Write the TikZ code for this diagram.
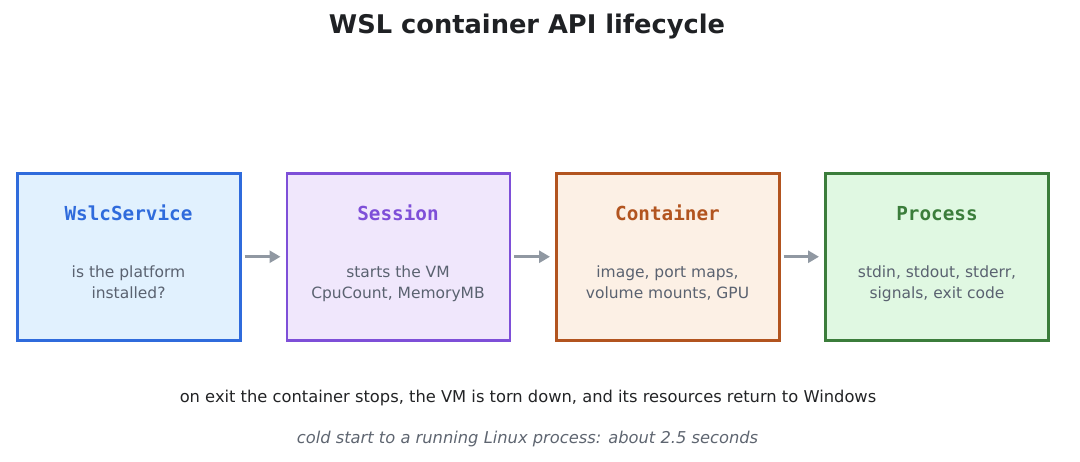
\documentclass[tikz,border=0pt]{standalone}
\usepackage{fontspec}
\setmainfont{DejaVu Sans}
\setmonofont{DejaVu Sans Mono}
\usetikzlibrary{arrows.meta}
\definecolor{titlec}{HTML}{1F2124}
\definecolor{bodyc}{HTML}{5A6270}
\definecolor{arrowc}{HTML}{9098A2}
\definecolor{footc}{HTML}{222325}
\definecolor{notec}{HTML}{5E6570}
\definecolor{bA}{HTML}{2F6BDC}\definecolor{fA}{HTML}{E1F1FE}
\definecolor{bB}{HTML}{7E4FD8}\definecolor{fB}{HTML}{F0E7FC}
\definecolor{bC}{HTML}{B2541F}\definecolor{fC}{HTML}{FCF0E5}
\definecolor{bD}{HTML}{3B7D3B}\definecolor{fD}{HTML}{E0F8E2}
\tikzset{
  stage/.style={draw, line width=2.5pt, minimum width=223pt, minimum height=167pt, inner sep=0pt, anchor=north west},
  stagetitle/.style={anchor=base, font=\fontsize{19.3}{22}\selectfont\ttfamily\bfseries},
  body/.style={anchor=base, text=bodyc, font=\fontsize{15.5}{21}\selectfont},
  flow/.style={draw=arrowc, line width=3pt, -{Triangle[length=11pt,width=12pt]}, shorten >=1pt},
}
\begin{document}
\begin{tikzpicture}[x=1pt,y=-1pt]
\useasboundingbox (0,0) rectangle (1080,461);
\node[anchor=base, text=titlec, font=\fontsize{25.7}{30}\selectfont\bfseries] (title) at (527,33) {WSL container API lifecycle};

\node[stage, draw=bA, fill=fA] (svc) at (16,172) {};
\node[stage, draw=bB, fill=fB] (ses) at (285.5,172) {};
\node[stage, draw=bC, fill=fC] (con) at (555,172) {};
\node[stage, draw=bD, fill=fD] (pro) at (824,172) {};

\node[stagetitle, text=bA] (svct) at (128.5,220.5) {WslcService};
\node[stagetitle, text=bB] (sest) at (398,220.5) {Session};
\node[stagetitle, text=bC] (cont) at (667.5,220.5) {Container};
\node[stagetitle, text=bD] (prot) at (937,220.5) {Process};

\node[body] (svc1) at (128.5,277) {is the platform};
\node[body] (svc2) at (128.5,298) {installed?};
\node[body] (ses1) at (398,277) {starts the VM};
\node[body] (ses2) at (398,298) {CpuCount, MemoryMB};
\node[body] (con1) at (667.5,277) {image, port maps,};
\node[body] (con2) at (667.5,298) {volume mounts, GPU};
\node[body] (pro1) at (937,277) {stdin, stdout, stderr,};
\node[body] (pro2) at (937,298) {signals, exit code};

\draw[flow] ([xshift=3pt]svc.east) -- ([xshift=-4pt]ses.west);
\draw[flow] ([xshift=3pt]ses.east) -- ([xshift=-4pt]con.west);
\draw[flow] ([xshift=3pt]con.east) -- ([xshift=-4pt]pro.west);

\node[anchor=base, text=footc, font=\fontsize{16.3}{20}\selectfont] (foot) at (528,402.5) {on exit the container stops, the VM is torn down, and its resources return to Windows};
\node[anchor=base, text=notec, font=\fontsize{16.3}{20}\selectfont\itshape] (note) at (527.5,443.5) {cold start to a running Linux process: about 2.5 seconds};
\end{tikzpicture}
\end{document}
